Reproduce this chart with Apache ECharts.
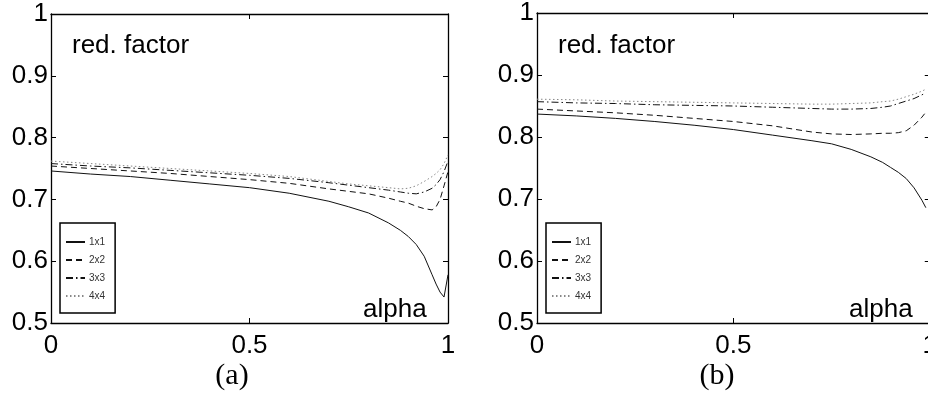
<!DOCTYPE html>
<html>
<head>
<meta charset="utf-8">
<script src="https://cdn.jsdelivr.net/npm/echarts@6/dist/echarts.min.js"></script>
<style>
html,body{margin:0;padding:0;overflow:hidden;background:#fff;width:928px;height:410px;}
#c{width:940px;height:410px;}
</style>
</head>
<body>
<div id="c"></div>
<script>
// ---- data ----
const seriesNames = ['1x1', '2x2', '3x3', '4x4'];
const xTicks = [0, 0.5, 1];
const yTicks = [0.5, 0.6, 0.7, 0.8, 0.9, 1];

// panel (a)
const alphaA = [0, 0.1, 0.2, 0.3, 0.4, 0.5, 0.6, 0.7, 0.75, 0.8, 0.85, 0.88, 0.9, 0.92, 0.94, 0.96, 0.97, 0.98, 0.99, 1.0];
const a1x1 = [0.746, 0.741, 0.737, 0.731, 0.725, 0.719, 0.710, 0.697, 0.688, 0.678, 0.662, 0.650, 0.640, 0.627, 0.608, 0.578, 0.563, 0.550, 0.542, 0.578];
const a2x2 = [0.754, 0.750, 0.746, 0.742, 0.737, 0.732, 0.726, 0.717, 0.713, 0.709, 0.702, 0.697, 0.694, 0.689, 0.685, 0.683, 0.688, 0.700, 0.722, 0.745];
const a3x3 = [0.758, 0.754, 0.751, 0.747, 0.743, 0.739, 0.734, 0.727, 0.723, 0.719, 0.715, 0.712, 0.710, 0.709, 0.712, 0.718, 0.724, 0.732, 0.745, 0.762];
const a4x4 = [0.762, 0.758, 0.754, 0.750, 0.746, 0.742, 0.737, 0.729, 0.725, 0.722, 0.719, 0.717, 0.718, 0.722, 0.729, 0.737, 0.742, 0.748, 0.758, 0.772];

// panel (b)
const alphaB = [0, 0.1, 0.2, 0.3, 0.4, 0.5, 0.6, 0.7, 0.75, 0.8, 0.85, 0.88, 0.9, 0.92, 0.94, 0.96, 0.98, 0.99];
const b1x1 = [0.837, 0.834, 0.830, 0.825, 0.819, 0.812, 0.803, 0.794, 0.789, 0.780, 0.768, 0.759, 0.751, 0.743, 0.733, 0.718, 0.698, 0.686];
const b2x2 = [0.845, 0.842, 0.839, 0.835, 0.830, 0.825, 0.818, 0.808, 0.805, 0.804, 0.805, 0.806, 0.806, 0.807, 0.810, 0.819, 0.832, 0.840];
const b3x3 = [0.857, 0.855, 0.854, 0.852, 0.851, 0.850, 0.848, 0.846, 0.845, 0.845, 0.846, 0.848, 0.850, 0.854, 0.858, 0.862, 0.868, 0.871];
const b4x4 = [0.861, 0.860, 0.858, 0.857, 0.856, 0.855, 0.854, 0.853, 0.853, 0.854, 0.855, 0.857, 0.858, 0.861, 0.865, 0.869, 0.874, 0.877];

const panelLabels = ['(a)', '(b)'];
const yLabelText = 'red. factor';
const xLabelText = 'alpha';

// ---- build ----
const styles = [
  {color: '#111', width: 1, type: 'solid'},
  {color: '#111', width: 1, type: [6, 4]},
  {color: '#111', width: 1, type: [7, 3, 1.5, 3]},
  {color: '#888', width: 1, type: [1.5, 2.5]}
];
function pairs(xs, ys){ return xs.map((x, i) => [x, ys[i]]); }

const grids = [
  {left: 51, top: 14, width: 397, height: 309},
  {left: 537, top: 13, width: 397, height: 310}
];
const FONT = '"Liberation Sans", Arial, sans-serif';
const xAxes = [], yAxes = [];
grids.forEach((g, gi) => {
  ['bottom', 'top'].forEach((pos, k) => {
    xAxes.push({
      type: 'value', gridIndex: gi, position: pos, min: 0, max: 1, interval: 0.5,
      axisLine: {show: true, onZero: false, lineStyle: {color: '#000', width: 1.3}},
      axisTick: {show: true, inside: true, length: 5, lineStyle: {color: '#000', width: 1}},
      axisLabel: {show: k === 0, color: '#000', fontFamily: FONT, fontSize: 26, margin: 10,
                  showMinLabel: true, showMaxLabel: true},
      splitLine: {show: false}
    });
  });
  ['left', 'right'].forEach((pos, k) => {
    yAxes.push({
      type: 'value', gridIndex: gi, position: pos, min: 0.5, max: 1, interval: 0.1,
      axisLine: {show: true, onZero: false, lineStyle: {color: '#000', width: 1.3}},
      axisTick: {show: true, inside: true, length: 5, lineStyle: {color: '#000', width: 1}},
      axisLabel: {show: k === 0, color: '#000', fontFamily: FONT, fontSize: 26, margin: 3,
                  showMinLabel: true, showMaxLabel: true},
      splitLine: {show: false}
    });
  });
});

const dataA = [a1x1, a2x2, a3x3, a4x4];
const dataB = [b1x1, b2x2, b3x3, b4x4];
const series = [];
[[alphaA, dataA], [alphaB, dataB]].forEach(([xs, sets], gi) => {
  sets.forEach((ys, si) => {
    series.push({
      type: 'line', name: seriesNames[si], xAxisIndex: gi * 2, yAxisIndex: gi * 2,
      data: pairs(xs, ys), symbol: 'none', smooth: false, clip: true,
      lineStyle: styles[si], itemStyle: {color: styles[si].color},
      silent: true, animation: false
    });
  });
});

const legends = grids.map(g => ({
  show: true, orient: 'vertical', left: g.left + 9, top: 223,
  data: seriesNames,
  itemWidth: 19, itemHeight: 12, itemGap: 6,
  padding: [13, 10, 11, 5],
  borderColor: '#000', borderWidth: 1.5, backgroundColor: '#fff',
  itemStyle: {opacity: 0},
  textStyle: {color: '#333', fontFamily: FONT, fontSize: 10, lineHeight: 12, padding: [0, 0, 0, -1]},
  selectedMode: false
}));

const graphic = [];
grids.forEach((g, gi) => {
  graphic.push({type: 'text', left: g.left + 21, top: 33,
    style: {text: yLabelText, font: '26px ' + FONT, fill: '#000'}});
  graphic.push({type: 'text', left: g.left + 312, top: 297,
    style: {text: xLabelText, font: '26px ' + FONT, fill: '#000'}});
});
graphic.push({type: 'text', x: 232, y: 376,
  style: {text: panelLabels[0], font: '30px "Liberation Serif", "Times New Roman", serif', fill: '#000', textAlign: 'center', textVerticalAlign: 'middle'}});
graphic.push({type: 'text', x: 717, y: 376,
  style: {text: panelLabels[1], font: '30px "Liberation Serif", "Times New Roman", serif', fill: '#000', textAlign: 'center', textVerticalAlign: 'middle'}});

const chart = echarts.init(document.getElementById('c'), null, {renderer: 'canvas'});
chart.setOption({
  animation: false,
  backgroundColor: '#fff',
  grid: grids.map(g => Object.assign({containLabel: false}, g)),
  xAxis: xAxes,
  yAxis: yAxes,
  legend: legends,
  series: series,
  graphic: graphic
});
</script>
</body>
</html>
